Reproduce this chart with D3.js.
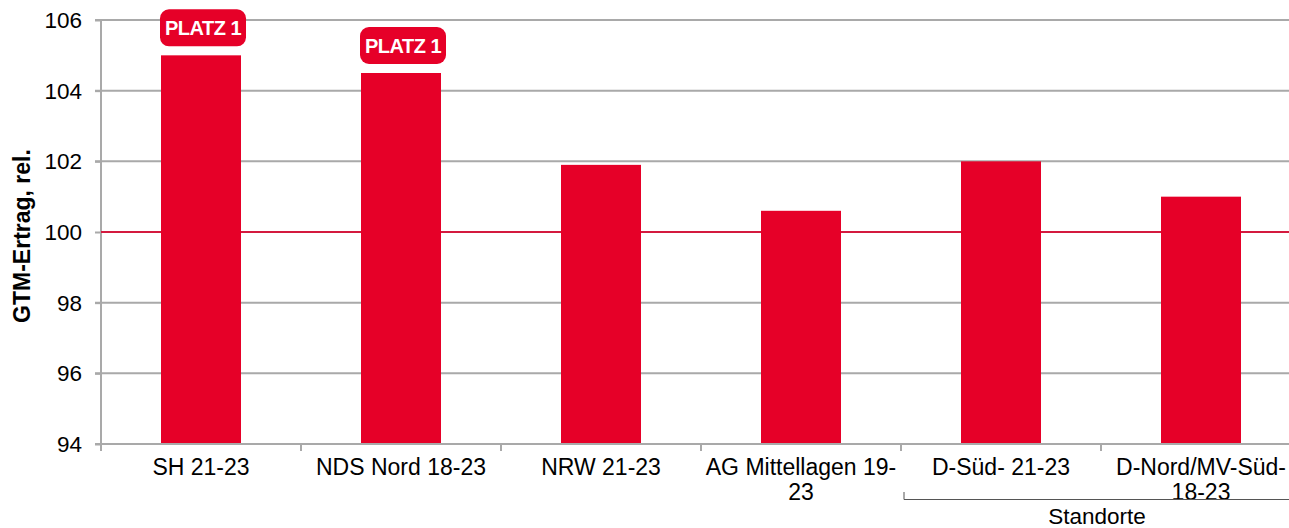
<!DOCTYPE html>
<html><head><meta charset="utf-8">
<script src="https://cdn.jsdelivr.net/npm/d3@7"></script>
<style>body{margin:0;background:#fff}svg{display:block}</style>
</head><body>
<svg id="c" width="1289" height="528"></svg>
<script>
const categories = ["SH 21-23", "NDS Nord 18-23", "NRW 21-23", "AG Mittellagen 19-23", "D-Süd- 21-23", "D-Nord/MV-Süd-18-23"];
const labelLines = [["SH 21-23"], ["NDS Nord 18-23"], ["NRW 21-23"], ["AG Mittellagen 19-", "23"], ["D-Süd- 21-23"], ["D-Nord/MV-Süd-", "18-23"]];
const values = [105.0, 104.5, 101.9, 100.6, 102.0, 101.0];
const badges = ["PLATZ 1", "PLATZ 1", null, null, null, null];
const yTicks = [94, 96, 98, 100, 102, 104, 106];
const groupLabel = "Standorte";
const groupStart = 4;

(function () {
const svg = d3.select("#c");
const mLeft = 101, mTop = 20, mBottom = 444;
const x = d3.scaleBand().domain(categories).range([mLeft, mLeft + 200 * categories.length]).paddingInner(0.6).paddingOuter(0.3);
const y = d3.scaleLinear().domain([94, 106]).range([mBottom, mTop]);
const font = "'Liberation Sans', Arial, sans-serif";
const grid = "#a9a9a9", red = "#e60028";

svg.append("g").selectAll("line").data(yTicks.filter(t => t !== 94 && t !== 100)).join("line")
  .attr("x1", mLeft - 6).attr("x2", 1289).attr("y1", d => y(d)).attr("y2", d => y(d))
  .attr("stroke", grid).attr("stroke-width", 2);

const ya = svg.append("g").attr("transform", `translate(${mLeft},0)`)
  .call(d3.axisLeft(y).tickValues(yTicks).tickSize(6).tickPadding(13).tickFormat(d3.format("d")));
ya.select(".domain").attr("stroke", grid).attr("stroke-width", 2).attr("d", `M0,${mTop}V${mBottom}`);
ya.selectAll(".tick line").attr("stroke", grid).attr("stroke-width", 2);
ya.selectAll(".tick text").attr("font-family", font).attr("font-size", 22.5).attr("fill", "#000").attr("dy", "0.33em");

svg.append("line").attr("x1", mLeft).attr("x2", 1289).attr("y1", y(100)).attr("y2", y(100))
  .attr("stroke", "#d41a3f").attr("stroke-width", 2);

svg.append("g").selectAll("rect").data(values).join("rect")
  .attr("x", (d, i) => x(categories[i])).attr("width", x.bandwidth())
  .attr("y", d => y(d)).attr("height", d => y(94) - y(d) - 1).attr("fill", red);

const step = 200;
const xa = svg.append("g");
xa.append("line").attr("x1", mLeft - 6).attr("x2", 1289).attr("y1", mBottom).attr("y2", mBottom).attr("stroke", grid).attr("stroke-width", 2);
xa.selectAll("line.t").data(d3.range(categories.length + 1)).join("line").attr("class", "t")
  .attr("x1", i => mLeft + i * step).attr("x2", i => mLeft + i * step)
  .attr("y1", mBottom).attr("y2", mBottom + 7).attr("stroke", grid).attr("stroke-width", 2);
const lt = xa.selectAll("text").data(labelLines).join("text")
  .attr("font-family", font).attr("font-size", 23).attr("text-anchor", "middle").attr("fill", "#000")
  .attr("transform", (d, i) => `translate(${x(categories[i]) + x.bandwidth() / 2},475)`);
lt.selectAll("tspan").data(d => d).join("tspan").attr("x", 0).attr("dy", (d, i) => i ? 25 : 0).text(d => d);

const gx = mLeft + groupStart * step + 3;
svg.append("path").attr("d", `M${gx},492V499.5H1289`).attr("fill", "none").attr("stroke", "#555").attr("stroke-width", 1);
svg.append("text").attr("x", 1097).attr("y", 524).attr("text-anchor", "middle")
  .attr("font-family", font).attr("font-size", 22.5).text(groupLabel);

svg.append("text").attr("transform", `translate(30,${y(100) + 4}) rotate(-90)`).attr("text-anchor", "middle")
  .attr("font-family", font).attr("font-size", 23).attr("font-weight", "bold").text("GTM-Ertrag, rel.");

const bg = svg.append("g").selectAll("g").data(values.map((v, i) => ({v, i, b: badges[i]})).filter(d => d.b)).join("g")
  .attr("transform", d => `translate(${x(categories[d.i]) + x.bandwidth() / 2 + 2},${y(d.v) - 9})`);
bg.append("rect").attr("x", -43).attr("y", -37).attr("width", 86).attr("height", 37).attr("rx", 9).attr("fill", red);
bg.append("text").attr("y", -11).attr("text-anchor", "middle").attr("fill", "#fff")
  .attr("font-family", "'Liberation Sans Narrow', 'Liberation Sans', Arial, sans-serif").attr("font-weight", "bold")
  .attr("font-size", 20).attr("letter-spacing", -0.5).text(d => d.b);
})();
</script>
</body></html>
